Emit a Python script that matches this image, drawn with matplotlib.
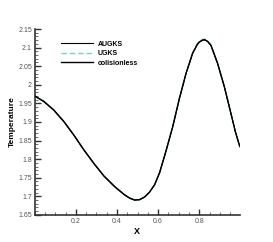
import numpy as np
import matplotlib
matplotlib.use("Agg")
import matplotlib.pyplot as plt
from matplotlib.ticker import MultipleLocator

# values
x = [0.0, 0.045, 0.093, 0.142, 0.19, 0.239, 0.287, 0.336, 0.389, 0.437, 0.462, 0.486,
     0.51, 0.534, 0.558, 0.583, 0.607, 0.639, 0.671, 0.703, 0.736, 0.768, 0.79, 0.80,
     0.816, 0.827, 0.84, 0.857, 0.889, 0.922, 0.954, 0.976, 0.997]
T_augks = [1.970, 1.955, 1.932, 1.901, 1.865, 1.825, 1.789, 1.755, 1.726, 1.704, 1.695, 1.690,
           1.691, 1.698, 1.711, 1.731, 1.763, 1.823, 1.887, 1.962, 2.031, 2.085, 2.108, 2.115,
           2.120, 2.121, 2.117, 2.106, 2.058, 1.995, 1.923, 1.873, 1.834]
T_ugks = [1.970, 1.955, 1.932, 1.901, 1.865, 1.825, 1.789, 1.755, 1.726, 1.704, 1.695, 1.690,
          1.691, 1.698, 1.711, 1.731, 1.763, 1.823, 1.887, 1.962, 2.031, 2.086, 2.110, 2.117,
          2.122, 2.123, 2.119, 2.107, 2.058, 1.995, 1.923, 1.873, 1.834]
T_coll = [1.970, 1.955, 1.932, 1.901, 1.865, 1.825, 1.789, 1.755, 1.726, 1.704, 1.695, 1.690,
          1.691, 1.698, 1.711, 1.731, 1.763, 1.823, 1.887, 1.962, 2.031, 2.085, 2.108, 2.115,
          2.120, 2.121, 2.117, 2.106, 2.058, 1.995, 1.923, 1.873, 1.834]

plt.rcParams['font.family'] = ['Liberation Sans', 'DejaVu Sans']

fig = plt.figure(figsize=(2.73, 2.42), dpi=100)
ax = fig.add_axes([0.127, 0.112, 0.752, 0.768])

ax.plot(x, T_ugks, color='#7ecdc8', lw=1.0, ls=(0, (4, 2)), label='UGKS', zorder=2)
ax.plot(x, T_augks, color='black', lw=0.8, label='AUGKS', zorder=3)
ax.plot(x, T_coll, color='black', lw=1.0, label='colisionless', zorder=3)

ax.set_xlim(0, 0.998)
ax.set_ylim(1.65, 2.15)
ax.xaxis.set_minor_locator(MultipleLocator(0.05))
ax.yaxis.set_minor_locator(MultipleLocator(0.01))
ax.set_xticks([0.2, 0.4, 0.6, 0.8])
ax.set_xticklabels(['0.2', '0.4', '0.6', '0.8'])
ax.set_yticks([1.65, 1.7, 1.75, 1.8, 1.85, 1.9, 1.95, 2.0, 2.05, 2.1, 2.15])
ax.set_yticklabels(['1.65', '1.7', '1.75', '1.8', '1.85', '1.9', '1.95', '2', '2.05', '2.1', '2.15'])

for s in ['top', 'right']:
    ax.spines[s].set_visible(False)
for s in ['left', 'bottom']:
    ax.spines[s].set_linewidth(1.2)
    ax.spines[s].set_color('#333333')
ax.tick_params(which='major', direction='in', length=4, width=1.0, labelsize=5, colors='#333333', labelcolor='#555555', pad=2)
ax.tick_params(which='minor', direction='in', length=2, width=0.6, colors='#555555')

ax.set_xlabel('X', fontsize=6.5, fontweight='bold', labelpad=2)
ax.set_ylabel('Temperature', fontsize=6, fontweight='bold', labelpad=2)

handles, labels = ax.get_legend_handles_labels()
order = [1, 0, 2]
ax.legend([handles[i] for i in order], [labels[i] for i in order],
          loc='upper left', bbox_to_anchor=(0.1, 0.97), frameon=False,
          handlelength=4.6, handletextpad=0.6, labelspacing=0.35,
          prop={'weight': 'bold', 'size': 5})

fig.savefig('out.png', dpi=100)
